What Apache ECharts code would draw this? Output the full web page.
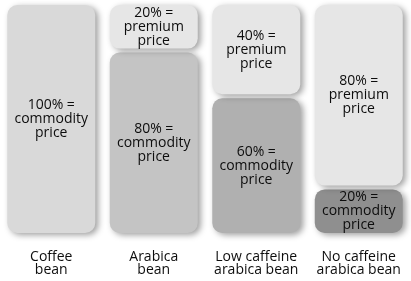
<!DOCTYPE html>
<html>
<head>
<meta charset="utf-8">
<script src="https://cdn.jsdelivr.net/npm/echarts@6/dist/echarts.min.js"></script>
<style>
html,body{margin:0;padding:0;background:#fff;}
#chart{width:411px;height:281px;}
</style>
</head>
<body>
<div id="chart"></div>
<script>
var categories = ['Coffee\nbean', 'Arabica\nbean', 'Low caffeine\narabica bean', 'No caffeine\narabica bean'];
var commodity = [100, 80, 60, 20];
var premium = [0, 20, 40, 80];
var commodityLabels = ['100% =\ncommodity\nprice', '80% =\ncommodity\nprice', '60% =\ncommodity\nprice', '20% =\ncommodity\nprice'];
var premiumLabels = ['', '20% =\npremium\nprice', '40% =\npremium\nprice', '80% =\npremium\nprice'];
var commodityColors = ['#d9d9d9', '#c4c4c4', '#b0b0b0', '#8f8f8f'];
var premiumColor = '#e6e6e6';

var GAP = 4, BOXW = 88, RADIUS = 10;

function renderBox(kind) {
  return function (params, api) {
    var i = api.value(0);
    var base = api.value(2);
    var val = api.value(1);
    if (val <= 0) return null;
    var p0 = api.coord([i, base]);
    var p1 = api.coord([i, base + val]);
    var yTop = p1[1], yBot = p0[1];
    if (kind === 'commodity' && premium[i] > 0) yTop += GAP / 2;
    if (kind === 'premium' && commodity[i] > 0) yBot -= GAP / 2;
    var label = kind === 'commodity' ? commodityLabels[i] : premiumLabels[i];
    return {
      type: 'rect',
      shape: { x: p0[0] - BOXW / 2, y: yTop, width: BOXW, height: yBot - yTop, r: RADIUS },
      style: {
        fill: kind === 'commodity' ? commodityColors[i] : premiumColor,
        shadowBlur: 6, shadowOffsetX: 3, shadowOffsetY: 2,
        shadowColor: 'rgba(0,0,0,0.38)'
      },
      textContent: {
        style: {
          text: label, fill: '#0d0d0d', fontFamily: 'Open Sans', fontSize: 14,
          lineHeight: 14, align: 'center', verticalAlign: 'middle'
        }
      },
      textConfig: { position: 'inside' }
    };
  };
}

var chart = echarts.init(document.getElementById('chart'));
chart.setOption({
  animation: false,
  grid: { left: -5, right: 1, top: 5, bottom: 48 },
  xAxis: {
    type: 'category', data: categories,
    axisLine: { show: false }, axisTick: { show: false }, splitLine: { show: false },
    axisLabel: { color: '#0d0d0d', fontFamily: 'Open Sans', fontSize: 14, lineHeight: 13, margin: 18, interval: 0 }
  },
  yAxis: { type: 'value', min: 0, max: 100, show: false },
  series: [
    {
      type: 'custom', renderItem: renderBox('commodity'),
      data: commodity.map(function (v, i) { return [i, v, 0]; })
    },
    {
      type: 'custom', renderItem: renderBox('premium'),
      data: premium.map(function (v, i) { return [i, v, commodity[i]]; })
    }
  ]
});
</script>
</body>
</html>
